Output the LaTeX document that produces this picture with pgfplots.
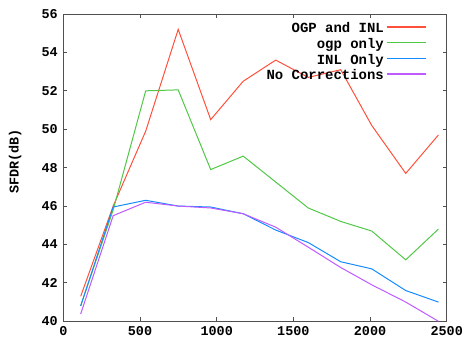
\documentclass[border=0pt]{standalone}
\usepackage{fontspec}
\setmainfont{Liberation Mono}[BoldFont={* Bold}]
\usepackage{pgfplots}
\pgfplotsset{compat=1.18}
\usetikzlibrary{calc}
\definecolor{cred}{RGB}{255,80,60}
\definecolor{cgreen}{RGB}{80,200,70}
\definecolor{cblue}{RGB}{20,140,255}
\definecolor{cpurple}{RGB}{190,90,255}
\definecolor{frame}{RGB}{80,80,80}
\begin{document}
\begin{tikzpicture}
\begin{axis}[
  name=ax,
  scale only axis,
  width=383bp, height=307bp,
  xmin=0, xmax=2500, ymin=40, ymax=56,
  xtick={0,500,...,2500},
  ytick={40,42,...,56},
  tick align=inside,
  major tick length=4bp,
  axis line style={frame, line width=0.9pt},
  every tick/.style={frame, line width=0.8pt},
  font=\fontsize{13.5}{15}\selectfont\bfseries,
  /pgf/number format/assume math mode=true,
  /pgf/number format/1000 sep={},
  ylabel={SFDR(dB)},
  ylabel style={at={(axis description cs:-0.126,0.52)}, anchor=center, rotate=0},
  yticklabel style={xshift=-2bp},
  xticklabel style={yshift=-2bp},
  legend style={draw=none, fill=none, at={(0.955,0.985)}, anchor=north east,
    font=\fontsize{14}{15.4}\selectfont\bfseries, row sep=0bp},
  legend cell align=right,
  legend plot pos=right,
  legend image code/.code={\draw[#1, line width=1.4pt] (0bp,1.5bp) -- (39bp,1.5bp);},
]
\addplot[cred, line width=1pt] coordinates {
(113,41.3) (325,46.0) (537,49.9) (749,55.2) (961,50.5) (1173,52.5)
(1385,53.6) (1597,52.7) (1809,53.1) (2011,50.2) (2233,47.7) (2446,49.7)};
\addlegendentry{OGP and INL}
\addplot[cgreen, line width=1pt] coordinates {
(113,40.8) (325,45.8) (537,52.0) (749,52.05) (961,47.9) (1173,48.6)
(1385,47.25) (1597,45.9) (1809,45.2) (2011,44.7) (2233,43.2) (2446,44.8)};
\addlegendentry{ogp only}
\addplot[cblue, line width=1pt] coordinates {
(113,40.8) (325,45.95) (537,46.3) (749,46.0) (961,45.95) (1173,45.6)
(1385,44.75) (1597,44.1) (1809,43.1) (2011,42.73) (2233,41.6) (2446,41.0)};
\addlegendentry{INL Only}
\addplot[cpurple, line width=1pt] coordinates {
(113,40.38) (325,45.5) (537,46.2) (749,46.0) (961,45.9) (1173,45.6)
(1385,44.9) (1597,43.86) (1809,42.8) (2011,41.9) (2233,41.0) (2446,40.0)};
\addlegendentry{No Corrections}
\end{axis}
\pgfresetboundingbox
\path[use as bounding box] ($(ax.south west)+(-63.3bp,-22.3bp)$) rectangle ($(ax.north east)+(21.3bp,14bp)$);
\end{tikzpicture}
\end{document}
